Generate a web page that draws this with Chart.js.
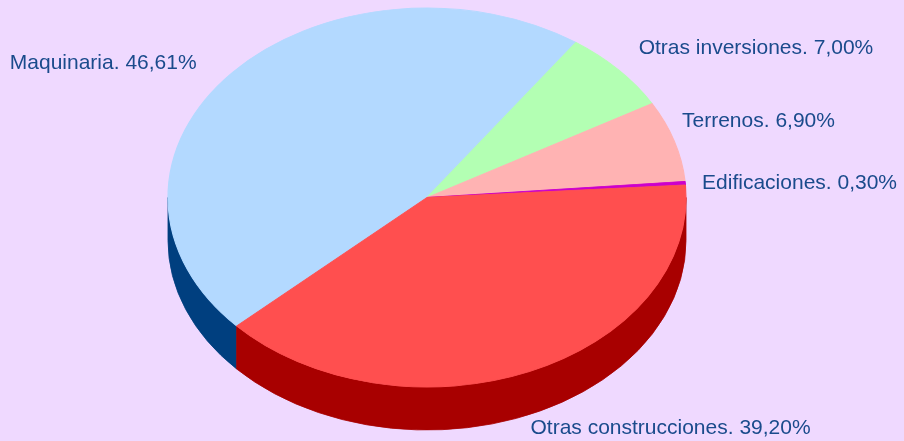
<!DOCTYPE html>
<html><head><meta charset="utf-8">
<script src="https://cdn.jsdelivr.net/npm/chart.js@4/dist/chart.umd.min.js"></script>
<style>html,body{margin:0;padding:0;background:#EFD9FF;overflow:hidden}#wrap{width:904px;height:441px;position:relative}</style>
</head><body><div id="wrap"><canvas id="c"></canvas></div>
<script>
const categories = ['Maquinaria', 'Otras inversiones', 'Terrenos', 'Edificaciones', 'Otras construcciones'];
const shares = [46.61, 7.00, 6.90, 0.30, 39.20];
const topColors = ['#B3D9FF', '#B3FFB3', '#FFB3B3', '#CC00CC', '#FF4F4F'];
const sideColors = ['#003F7F', '#5FA05F', '#A05F5F', '#7F007F', '#A80000'];
const labelNudge = [[-16, 3], [1, -9], [-17, -14], [-9, 1], [-9, -4]];

const BG = '#EFD9FF';
const TEXT = '#1A4B8C';
const CX = 427, CY = 197.5, RX = 259, RY = 189.5, DEPTH = 43;

function geom(chart) {
  const el = chart.getDatasetMeta(0).data[0];
  const R = el.outerRadius;
  return { x0: el.x, y0: el.y, R: R, sx: RX / R, sy: RY / R };
}
function fmt(v) { return v.toFixed(2).replace('.', ',') + '%'; }

const pie3d = {
  id: 'pie3d',
  beforeDraw(chart) {
    const ctx = chart.ctx;
    ctx.save();
    ctx.setTransform(1, 0, 0, 1, 0, 0);
    ctx.fillStyle = BG;
    ctx.fillRect(0, 0, chart.canvas.width, chart.canvas.height);
    ctx.restore();
  },
  beforeDatasetsDraw(chart) {
    const ctx = chart.ctx, dpr = chart.currentDevicePixelRatio || 1;
    const g = geom(chart);
    ctx.save();
    ctx.setTransform(dpr * g.sx, 0, 0, dpr * g.sy, dpr * (CX - g.sx * g.x0), dpr * (CY - g.sy * g.y0));
    const dz = DEPTH / g.sy;
    const meta = chart.getDatasetMeta(0);
    meta.data.forEach((el, i) => {
      const s = el.startAngle, e = el.endAngle;
      for (let k = -2; k <= 3; k++) {
        const lo = Math.max(s, k * 2 * Math.PI), hi = Math.min(e, k * 2 * Math.PI + Math.PI);
        if (hi > lo) {
          ctx.beginPath();
          ctx.arc(g.x0, g.y0, g.R, lo, hi);
          ctx.arc(g.x0, g.y0 + dz, g.R, hi, lo, true);
          ctx.closePath();
          ctx.fillStyle = sideColors[i];
          ctx.fill();
          ctx.strokeStyle = sideColors[i];
          ctx.lineWidth = 0.8;
          ctx.stroke();
        }
      }
    });
  },
  afterDatasetsDraw(chart) {
    const ctx = chart.ctx;
    ctx.restore();
    const meta = chart.getDatasetMeta(0);
    ctx.save();
    ctx.font = '21px "Liberation Sans", Arial, sans-serif';
    ctx.fillStyle = TEXT;
    ctx.textBaseline = 'middle';
    meta.data.forEach((el, i) => {
      const mid = (el.startAngle + el.endAngle) / 2;
      const c = Math.cos(mid), sn = Math.sin(mid);
      const x = CX + RX * 1.1 * c + labelNudge[i][0];
      const y = CY + RY * 1.1 * sn + (sn > 0 ? DEPTH : 0) + labelNudge[i][1];
      ctx.textAlign = c >= 0 ? 'left' : 'right';
      ctx.fillText(chart.data.labels[i] + '. ' + fmt(shares[i]), x, y);
    });
    ctx.restore();
  }
};

new Chart(document.getElementById('c'), {
  type: 'pie',
  data: {
    labels: categories,
    datasets: [{
      data: shares,
      backgroundColor: topColors,
      borderColor: topColors,
      borderWidth: 1
    }]
  },
  options: {
    responsive: true,
    maintainAspectRatio: false,
    animation: false,
    events: [],
    rotation: 227.3,
    layout: { padding: 0 },
    plugins: { legend: { display: false }, tooltip: { enabled: false } }
  },
  plugins: [pie3d]
});
</script>
</body></html>
